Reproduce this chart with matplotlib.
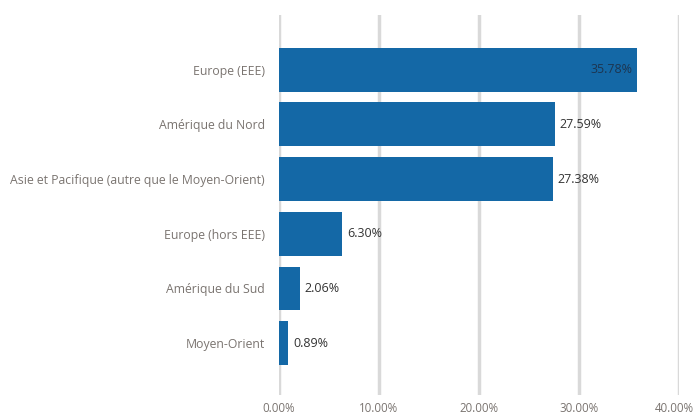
import matplotlib
matplotlib.use("Agg")
import matplotlib.pyplot as plt
import matplotlib.transforms as mtransforms
from matplotlib.ticker import FuncFormatter

categories = ["Europe (EEE)", "Amérique du Nord", "Asie et Pacifique (autre que le Moyen-Orient)",
              "Europe (hors EEE)", "Amérique du Sud", "Moyen-Orient"]
values = [35.78, 27.59, 27.38, 6.30, 2.06, 0.89]
xticks = [0, 10, 20, 30, 40]

plt.rcParams['font.family'] = ['Open Sans', 'DejaVu Sans']

fig = plt.figure(figsize=(6.97, 4.18), dpi=100)
ax = fig.add_axes([279/697, 23/418, 400/697, 380/418])

y = list(range(len(categories)))
ax.barh(y, values, height=0.8, color="#1468a6", zorder=3)
ax.set_ylim(5.95, -1.0)
ax.set_xlim(0, 40)
ax.set_xticks(xticks)
ax.xaxis.set_major_formatter(FuncFormatter(lambda v, p: f"{v:.2f}%"))
ax.grid(axis="x", color="#d9d9d9", linewidth=2.5, zorder=0)
ax.set_yticks(y)
ax.set_yticklabels(categories)
for s in ax.spines.values():
    s.set_visible(False)
ax.tick_params(axis="both", length=0, colors="#7a7470", labelsize=8.8)
ax.tick_params(axis="y", pad=10)
ax.tick_params(axis="x", pad=5)
xlabels = ax.get_xticklabels()
for lbl in xlabels:
    lbl.set_fontsize(8.3)
xlabels[-1].set_transform(xlabels[-1].get_transform() +
                          mtransforms.ScaledTranslation(-3/72, 0, fig.dpi_scale_trans))

for i, v in enumerate(values):
    if v > 30:
        ax.text(v - 0.4, i, f"{v:.2f}%", ha="right", va="center", fontsize=9, color="#1d3550", zorder=4)
    else:
        ax.text(v + 0.5, i, f"{v:.2f}%", ha="left", va="center", fontsize=9, color="#333333", zorder=4)

fig.savefig("out.png", dpi=100)
